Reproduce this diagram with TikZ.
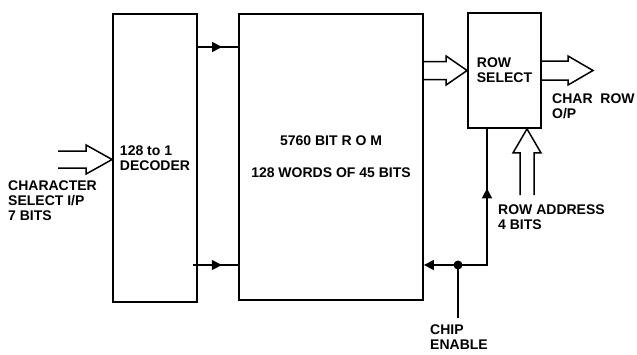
\documentclass[tikz,border=0pt]{standalone}
\usepackage{fontspec}
\setmainfont{Liberation Sans}
\usetikzlibrary{arrows.meta, calc, decorations.markings}

% hollow bus arrows: tail, tip, shaft half-width, head length
\newcommand{\hbus}[4]{%
  \draw[bus] ($(#1)+(0,-#3)$) -- ($(#2)+(-#4,-#3)$) -- ($(#2)+(-#4,-14.5)$) -- (#2)
    -- ($(#2)+(-#4,14.5)$) -- ($(#2)+(-#4,#3)$) -- ($(#1)+(0,#3)$);}
\newcommand{\vbus}[4]{%
  \draw[bus] ($(#1)+(-#3,0)$) -- ($(#2)+(-#3,#4)$) -- ($(#2)+(-14,#4)$) -- (#2)
    -- ($(#2)+(14,#4)$) -- ($(#2)+(#3,#4)$) -- ($(#1)+(#3,0)$);}

\begin{document}
\begin{tikzpicture}[
    x=1pt, y=-1pt,
    font=\fontsize{14}{15}\selectfont\bfseries,
    block/.style={draw, line width=1.8pt, inner sep=0pt, align=left},
    wire/.style={line width=1.5pt},
    bus/.style={line width=1.5pt, line join=miter},
    tip/.style={-{Triangle[length=10pt, width=10pt]}},
    midarrow/.style={decoration={markings,
        mark=at position #1 with {\arrow{Triangle[length=10pt, width=10pt]}}},
        postaction={decorate}},
    lbl/.style={inner sep=0pt, align=left, anchor=north west}
]
  \useasboundingbox (0,0) rectangle (637,354);

  % blocks
  \node[block, minimum width=84pt, minimum height=288pt] (dec) at (155,158) {128 to 1\\DECODER};
  \node[block, minimum width=184pt, minimum height=286pt, align=center] (rom) at (331,157)
       {5760 BIT R O M\\[17pt]128 WORDS OF 45 BITS};
  \node[block, minimum width=73pt, minimum height=115pt] (rsel) at (504.5,70.5) {ROW\\SELECT};

  % free ends
  \coordinate (chin) at (58,159.5);
  \coordinate (chtip) at (dec.west |- chin);
  \coordinate (romout) at (rom.east |- rsel.west);
  \coordinate (chout) at (593,70.5);
  \coordinate (raddr) at (527,195);
  \coordinate (ratip) at (raddr |- rsel.south);
  \coordinate (wtop) at (0,47);
  \coordinate (wbot) at (0,265);
  \coordinate (cein) at (458,318);
  \coordinate (cedot) at (458,265);
  \coordinate (cejoin) at (487,265);

  % buses
  \hbus{chin}{chtip}{8.5}{26}
  \hbus{romout}{rsel.west}{9}{21}
  \hbus{rsel.east}{chout}{9.5}{25}
  \vbus{raddr}{ratip}{7}{24}

  % decoder outputs
  \draw[wire, midarrow=0.6] (dec.east |- wtop) -- (rom.west |- wtop);
  \draw[wire, midarrow=0.64] ($(dec.east |- wbot)+(-5,0)$) -- (rom.west |- wbot);

  % chip enable
  \draw[wire] (cein) -- (cedot);
  \draw[wire, tip] (cedot) -- (rom.east |- cedot);
  \draw[wire, midarrow=0.64] (cedot) -- (cejoin) -- (cejoin |- rsel.south);
  \fill (cedot) circle (4.5pt);

  % labels
  \node[lbl] (chsel) at (8,181) {CHARACTER\\SELECT I/P\\7 BITS};
  \node[lbl] (chrow) at (552,94) {CHAR\ \ ROW\\O/P};
  \node[lbl] (ralbl) at (498,205) {ROW ADDRESS\\4 BITS};
  \node[lbl] (celbl) at (430,325) {CHIP\\ENABLE};
\end{tikzpicture}
\end{document}
